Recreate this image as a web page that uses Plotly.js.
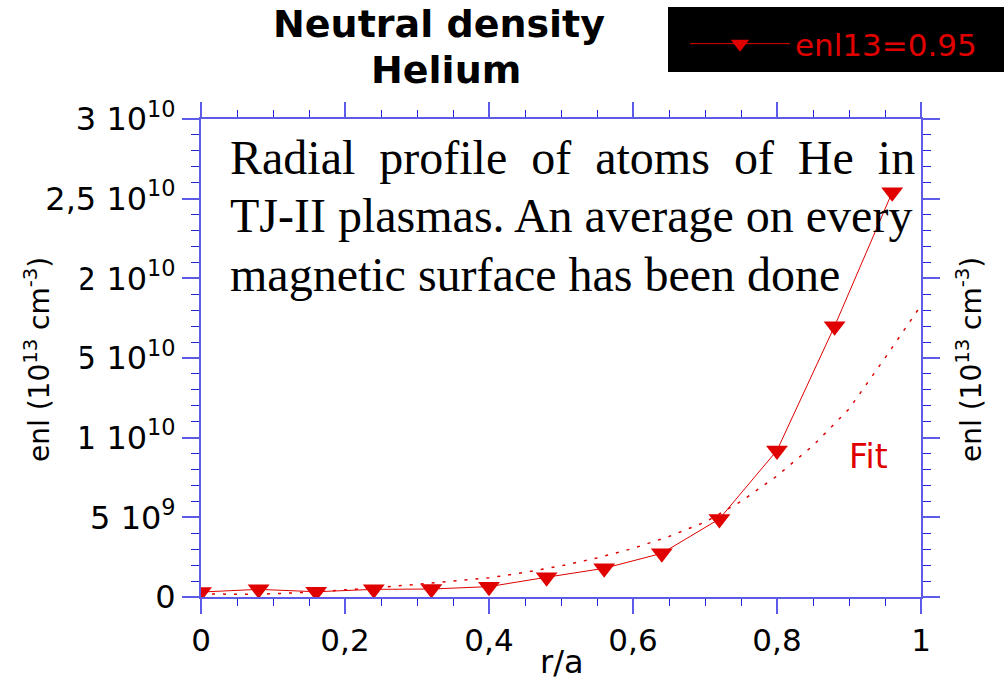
<!DOCTYPE html>
<html>
<head>
<meta charset="utf-8">
<script src="https://cdn.plot.ly/plotly-3.0.1.min.js"></script>
<style>html,body{margin:0;padding:0;background:#fff;} #chart{width:1004px;height:682px;}</style>
</head>
<body>
<div id="chart"></div>
<script>
// Measured data (r/a vs neutral density, cm^-3)
const radius = [0, 0.08, 0.16, 0.24, 0.32, 0.40, 0.48, 0.56, 0.64, 0.72, 0.80, 0.88, 0.96];
const enl = [0.31e9, 0.48e9, 0.33e9, 0.48e9, 0.50e9, 0.65e9, 1.24e9, 1.80e9, 2.74e9, 4.9e9, 9.2e9, 17.0e9, 25.4e9];
// Fit curve
const fitRadius = [0, 0.05, 0.10, 0.15, 0.20, 0.25, 0.30, 0.35, 0.40, 0.45, 0.50, 0.55, 0.60, 0.65, 0.70, 0.75, 0.80, 0.85, 0.90, 0.95, 1.00];
const fitEnl = [0.20e9, 0.17e9, 0.20e9, 0.30e9, 0.45e9, 0.60e9, 0.80e9, 1.00e9, 1.20e9, 1.55e9, 1.95e9, 2.45e9, 3.05e9, 3.80e9, 4.70e9, 6.0e9, 7.6e9, 9.5e9, 11.8e9, 15.0e9, 18.3e9];
// Tick labels
const yTickVals = [0, 5e9, 1e10, 1.5e10, 2e10, 2.5e10, 3e10];
const yTickText = ['0', '5 10<sup>9</sup>', '1 10<sup>10</sup>', '1,5 10<sup>10</sup>', '2 10<sup>10</sup>', '2,5 10<sup>10</sup>', '3 10<sup>10</sup>'];
const xTickVals = [0, 0.2, 0.4, 0.6, 0.8, 1];
const xTickText = ['0', '0,2', '0,4', '0,6', '0,8', '1'];
const seriesName = 'enl13=0.95';
const titleLines = ['Neutral density', 'Helium'];
const noteLines = ['Radial \u00A0profile \u00A0of \u00A0atoms \u00A0of \u00A0He \u00A0in', 'TJ-II plasmas. An average on every', 'magnetic surface has been done'];

const L = 201, R = 921, T = 119, B = 597;
const px = x => (x - L) / (R - L);
const py = y => (B - y) / (B - T);

const red = '#e00000';
const axisBlue = '#5c5ce8';
const minorBlue = '#2525d8';
const sans = 'DejaVu Sans';

const traces = [
  {
    x: radius, y: enl, name: seriesName, type: 'scatter', mode: 'lines+markers',
    line: {color: red, width: 1},
    marker: {symbol: 'triangle-down', size: 19, color: red},
    showlegend: true
  },
  {
    x: fitRadius, y: fitEnl, name: 'Fit', type: 'scatter', mode: 'lines',
    line: {color: red, width: 1.5, dash: '3px,8px'},
    showlegend: false
  }
];

const yTitle = 'enl (10<sup>13</sup> cm<sup>-3</sup>)';
const serif = {family: 'Liberation Serif', size: 48, color: '#000'};
const annBase = {xref: 'paper', yref: 'paper', showarrow: false};

const annotations = [
  Object.assign({text: titleLines[0], x: px(439), y: py(24), xanchor: 'center', yanchor: 'middle', font: {family: sans, size: 38, weight: 'bold', color: '#000'}}, annBase),
  Object.assign({text: titleLines[1], x: px(446), y: py(70), xanchor: 'center', yanchor: 'middle', font: {family: sans, size: 38, weight: 'bold', color: '#000'}}, annBase),
  Object.assign({text: noteLines[0], x: px(228), y: py(157), xanchor: 'left', yanchor: 'middle', font: serif}, annBase),
  Object.assign({text: noteLines[1], x: px(228), y: py(215), xanchor: 'left', yanchor: 'middle', font: serif}, annBase),
  Object.assign({text: noteLines[2], x: px(228), y: py(274), xanchor: 'left', yanchor: 'middle', font: serif}, annBase),
  Object.assign({text: 'Fit', x: px(868), y: py(456), xanchor: 'center', yanchor: 'middle', font: {family: sans, size: 33, color: red}}, annBase),
  Object.assign({text: 'r/a', x: px(562), y: py(662), xanchor: 'center', yanchor: 'middle', font: {family: sans, size: 32, color: '#000'}}, annBase),
  Object.assign({text: yTitle, x: px(37), y: py(360), xanchor: 'center', yanchor: 'middle', textangle: -90, bgcolor: '#fff', borderpad: 24, font: {family: sans, size: 28, color: '#000'}}, annBase),
  Object.assign({text: yTitle, x: px(969), y: py(360), xanchor: 'center', yanchor: 'middle', textangle: -90, font: {family: sans, size: 28, color: '#000'}}, annBase)
];

const axisCommon = {
  showgrid: false, zeroline: false,
  showline: true, linecolor: axisBlue, linewidth: 2,
  mirror: 'allticks', ticks: 'outside', tickcolor: axisBlue, tickwidth: 2
};

const layout = {
  width: 1004, height: 682,
  paper_bgcolor: '#fff', plot_bgcolor: '#fff',
  margin: {l: L, r: 1004 - R, t: T, b: 682 - B, pad: 0},
  xaxis: Object.assign({}, axisCommon, {
    range: [0, 1], tickvals: xTickVals, ticktext: xTickText, ticklen: 15,
    tickfont: {family: sans, size: 31, color: '#000'},
    minor: {dtick: 0.05, ticklen: 7, tickcolor: minorBlue, tickwidth: 1, ticks: 'outside'}
  }),
  yaxis: Object.assign({}, axisCommon, {
    range: [0, 3e10], tickvals: yTickVals, ticktext: yTickText, ticklen: 17,
    tickfont: {family: sans, size: 32, color: '#000'},
    minor: {dtick: 1e9, ticklen: 8, tickcolor: minorBlue, tickwidth: 1, ticks: 'outside'}
  }),
  showlegend: true,
  legend: {
    x: px(685), y: py(17), xanchor: 'left', yanchor: 'top',
    bgcolor: 'rgba(0,0,0,0)', borderwidth: 0, itemwidth: 100,
    font: {family: sans, size: 31, color: red}
  },
  shapes: [
    {type: 'rect', xref: 'paper', yref: 'paper', x0: px(668), x1: px(1004), y0: py(72), y1: py(7), fillcolor: '#000', line: {width: 0}, layer: 'below'}
  ],
  annotations: annotations
};

Plotly.newPlot('chart', traces, layout, {displayModeBar: false, staticPlot: true});
</script>
</body>
</html>
